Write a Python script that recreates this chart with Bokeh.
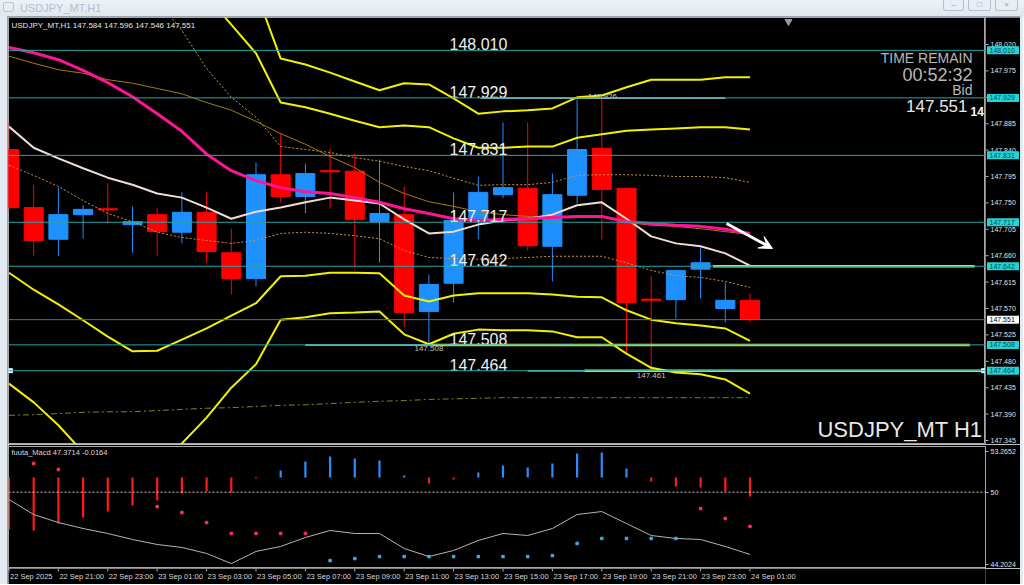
from bokeh.plotting import figure
from bokeh.models import Range1d, FixedTicker, PrintfTickFormatter, Span, Arrow, VeeHead, ColumnDataSource, Div
from bokeh.layouts import column, row
from bokeh.embed import file_html
from bokeh.resources import INLINE
from bokeh.core.properties import value

NaN = float("nan")

# ---------------- price data (H1 candles, 22 Sep 19:00 .. 24 Sep 01:00) ----------------
open_ = [147.841, 147.742, 147.688, 147.730, 147.740, 147.713, 147.730, 147.700, 147.734, 147.665,
         147.621, 147.798, 147.761, 147.805, 147.804, 147.718, 147.730, 147.565, 147.613, 147.720,
         147.764, 147.775, 147.676, 147.763, 147.843, 147.775, 147.586, 147.585, 147.637, 147.570,
         147.584]
high = [147.887, 147.781, 147.776, 147.746, 147.783, 147.744, 147.742, 147.768, 147.768, 147.706,
        147.819, 147.868, 147.817, 147.843, 147.834, 147.824, 147.778, 147.628, 147.768, 147.795,
        147.887, 147.887, 147.800, 147.926, 147.932, 147.776, 147.625, 147.636, 147.674, 147.614,
        147.596]
low = [147.737, 147.659, 147.659, 147.689, 147.715, 147.665, 147.660, 147.681, 147.648, 147.594,
       147.608, 147.751, 147.732, 147.740, 147.638, 147.648, 147.538, 147.508, 147.580, 147.688,
       147.758, 147.669, 147.616, 147.749, 147.688, 147.495, 147.461, 147.553, 147.587, 147.546,
       147.546]
close = [147.742, 147.686, 147.730, 147.739, 147.738, 147.718, 147.701, 147.734, 147.667, 147.621,
         147.798, 147.761, 147.800, 147.803, 147.722, 147.732, 147.563, 147.611, 147.720, 147.768,
         147.776, 147.677, 147.764, 147.841, 147.773, 147.580, 147.584, 147.635, 147.648, 147.584,
         147.551]

# indicator lines on the price chart
ma_magenta = [148.015, 148.006, 147.994, 147.976, 147.955, 147.931, 147.902, 147.872, 147.833, 147.805,
              147.788, 147.776, 147.769, 147.766, 147.759, 147.751, 147.740, 147.732, 147.723, 147.720,
              147.722, 147.723, 147.725, 147.727, 147.727, 147.718, 147.715, 147.712, 147.710, 147.705,
              147.698]
ma_white = [147.880, 147.844, 147.826, 147.809, 147.793, 147.781, 147.766, 147.759, 147.742, 147.723,
            147.735, 147.742, 147.751, 147.759, 147.754, 147.749, 147.722, 147.698, 147.701, 147.713,
            147.720, 147.723, 147.730, 147.746, 147.751, 147.723, 147.693, 147.681, 147.676, 147.664,
            147.643]
ma_gold = [148.000, 147.988, 147.977, 147.971, 147.960, 147.954, 147.945, 147.936, 147.921, 147.908,
           147.889, 147.868, 147.850, 147.829, 147.810, 147.785, 147.766, 147.752, 147.744, 147.735,
           147.730, 147.727, 147.725, 147.727, 147.727, 147.717, 147.712, 147.710, 147.706, 147.701,
           147.696]
env_up = [NaN, NaN, NaN, NaN, NaN, NaN, 148.095, 148.044, 147.979, 147.930,
          147.896, 147.846, 147.841, 147.836, 147.827, 147.821, 147.812, 147.805, 147.792, 147.780,
          147.781, 147.781, 147.785, 147.797, 147.798, 147.798, 147.797, 147.795, 147.795, 147.793,
          147.785]
env_dn = [147.814, 147.797, 147.778, 147.754, 147.732, 147.718, 147.700, 147.691, 147.686, 147.681,
          147.686, 147.698, 147.700, 147.698, 147.694, 147.689, 147.669, 147.657, 147.655, 147.654,
          147.655, 147.657, 147.659, 147.659, 147.659, 147.648, 147.635, 147.626, 147.623, 147.616,
          147.606]
band_up_outer = [NaN, NaN, NaN, NaN, NaN, NaN, NaN, NaN, NaN, NaN,
                 148.110, 147.996, 147.986, 147.972, 147.957, 147.942, 147.954, 147.952, 147.928, 147.902,
                 147.906, 147.908, 147.911, 147.930, 147.933, 147.947, 147.960, 147.960, 147.960, 147.964,
                 147.964]
band_up_inner = [NaN, NaN, NaN, NaN, NaN, NaN, NaN, NaN, 148.102, 148.054,
                 148.005, 147.921, 147.913, 147.902, 147.890, 147.879, 147.882, 147.879, 147.860, 147.844,
                 147.844, 147.846, 147.846, 147.861, 147.867, 147.873, 147.875, 147.877, 147.879, 147.879,
                 147.875]
band_dn_inner = [147.631, 147.602, 147.577, 147.550, 147.522, 147.497, 147.498, 147.517, 147.536, 147.558,
                 147.579, 147.625, 147.626, 147.631, 147.631, 147.630, 147.592, 147.582, 147.592, 147.596,
                 147.596, 147.596, 147.594, 147.590, 147.589, 147.567, 147.551, 147.545, 147.541, 147.536,
                 147.515]
band_dn_outer = [147.442, 147.410, 147.371, 147.325, 147.285, 147.251, 147.301, 147.340, 147.384, 147.435,
                 147.475, 147.551, 147.555, 147.562, 147.563, 147.565, 147.526, 147.509, 147.527, 147.534,
                 147.533, 147.533, 147.531, 147.521, 147.521, 147.493, 147.469, 147.461, 147.458, 147.449,
                 147.425]
ma_long = [147.388, 147.389, 147.391, 147.393, 147.394, 147.394, 147.396, 147.398, 147.400, 147.401,
           147.403, 147.405, 147.406, 147.408, 147.410, 147.412, 147.413, 147.415, 147.416, 147.417,
           147.418, 147.418, 147.418, 147.418, 147.418, 147.418, 147.418, 147.418, 147.418, 147.418,
           147.418]

levels = [148.010, 147.929, 147.831, 147.717, 147.642, 147.508, 147.464]
bid = 147.551
# user-drawn line pieces: level, from bar, to bar
seg_level = [147.929, 147.508, 147.464, 147.642, 147.508, 147.464]
seg_from = [19.1, 12.0, 21.0, 28.5, 17.1, 23.3]
seg_to = [29.0, 17.1, 23.3, 39.1, 38.9, 39.5]
seg_kind = ["pale", "pale", "pale", "yellow", "yellow", "yellow"]

price_ticks = [147.345, 147.390, 147.435, 147.480, 147.525, 147.570, 147.615, 147.660,
               147.705, 147.750, 147.795, 147.840, 147.885, 147.930, 147.975, 148.020]

# ---------------- sub-window (fuuta_Macd) ----------------
hist_base = 51.18
macd_hist = [47.01, 46.93, 47.49, 47.97, 48.45, 48.94, 49.34, 49.90, 50.06, 49.98,
             51.10, 51.74, 52.46, 52.86, 52.70, 52.54, 51.34, 50.70, 51.02, 51.58,
             52.14, 51.98, 52.30, 53.10, 53.19, 51.90, 50.86, 50.46, 50.38, 50.06,
             49.66]
sig_red = [NaN, 52.30, 51.82, NaN, NaN, NaN, 48.85, 48.37, 47.57, 46.69,
           46.69, 46.69, 46.69, NaN, NaN, NaN, NaN, NaN, NaN, NaN,
           NaN, NaN, NaN, NaN, NaN, NaN, NaN, NaN, 48.69, 47.89,
           47.25]
sig_blue = [NaN, NaN, NaN, NaN, NaN, NaN, NaN, NaN, NaN, NaN,
            NaN, NaN, NaN, 44.52, 44.68, 44.84, 44.84, 44.84, 44.84, 44.84,
            44.84, 44.84, 44.92, 45.89, 46.29, 46.29, 46.29, 46.29, NaN, NaN,
            NaN]
macd_line = [49.42, 48.21, 47.57, 47.09, 46.69, 46.21, 45.81, 45.57, 45.09, 44.28,
             45.25, 45.65, 46.37, 46.93, 46.69, 46.69, 45.49, 44.84, 45.33, 46.13,
             46.69, 46.53, 47.09, 48.21, 48.45, 47.49, 46.53, 46.29, 46.21, 45.65,
             45.01]
macd_ticks = [44.2024, 50.0, 53.2652]
date_ticks = [0, 2, 4, 6, 8, 10, 12, 14, 16, 18, 20, 22, 24, 26, 28, 30]
date_labels = ["22 Sep 2025", "22 Sep 21:00", "22 Sep 23:00", "23 Sep 01:00", "23 Sep 03:00",
               "23 Sep 05:00", "23 Sep 07:00", "23 Sep 09:00", "23 Sep 11:00", "23 Sep 13:00",
               "23 Sep 15:00", "23 Sep 17:00", "23 Sep 19:00", "23 Sep 21:00", "23 Sep 23:00",
               "24 Sep 01:00"]

# ---------------- layout helpers ----------------
FONT = "Liberation Sans"
BG = "black"
CHROME = "#e4eaf1"
BAR_PX = 24.7
FRAME_W = 977
AXIS_W = 35
X0 = -0.02
X1 = X0 + FRAME_W / BAR_PX
MAIN_H = 427
Y_TOP, Y_BOT = 148.066, 147.3382
P_PER_PX = (Y_TOP - Y_BOT) / MAIN_H
TOP_Y = 17      # page y of the price frame's top
LEFT_X = 8      # page x of the frames' left edge


def bx(sx):
    return X0 + (sx - LEFT_X) / BAR_PX


def py(sy):
    return Y_TOP - (sy - TOP_Y) * P_PER_PX


def plain(fig):
    fig.grid.visible = False
    fig.background_fill_color = BG
    fig.border_fill_color = BG
    return fig


idx = list(range(len(open_)))
xr = Range1d(X0, X1)

main = plain(figure(width=FRAME_W, height=MAIN_H, x_range=xr, y_range=Range1d(Y_BOT, Y_TOP),
                    x_axis_location=None, y_axis_location=None, output_backend="svg",
                    toolbar_location=None, outline_line_color="#a8a8a8", min_border=0))

# candles
colors = ["#1e90ff" if c > o else "#ff0000" for o, c in zip(open_, close)]
csrc = ColumnDataSource(dict(x=idx, top=[max(o, c) for o, c in zip(open_, close)],
                             bottom=[min(o, c) for o, c in zip(open_, close)],
                             high=high, low=low, color=colors))
main.segment(x0="x", y0="high", x1="x", y1="low", line_color="color", line_width=1, source=csrc)
main.vbar(x="x", top="top", bottom="bottom", width=0.77, fill_color="color", line_color="color",
          line_width=1, source=csrc)

# horizontal levels
for lv in levels:
    main.add_layout(Span(location=lv, dimension="width", line_color="#25a6a6", line_width=1))
main.add_layout(Span(location=bid, dimension="width", line_color="#6a6a6a", line_width=1))

seg_color = {"pale": "#bfeeee", "yellow": "#e8f020"}
seg_w = {"pale": 1.5, "yellow": 2.5}
for lv, a, b, k in zip(seg_level, seg_from, seg_to, seg_kind):
    main.segment(x0=[a], y0=[lv], x1=[b], y1=[lv], line_color=seg_color[k], line_width=seg_w[k])
main.scatter(x=[bx(10), bx(983)], y=[147.464, 147.464], marker="square", size=4, color="#d8ffff")

# indicators
main.line(idx, env_up, line_color="#c8963c", line_width=1, line_dash="2 2")
main.line(idx, env_dn, line_color="#c8963c", line_width=1, line_dash="2 2")
main.line(idx, ma_long, line_color="#6b8e23", line_width=1, line_dash="6 3 2 3")
main.line(idx, ma_gold, line_color="#a87a10", line_width=1)
for band in (band_up_outer, band_up_inner, band_dn_inner, band_dn_outer):
    main.line(idx, band, line_color="#f2f200", line_width=2)
main.line(idx, ma_white, line_color="#f3dcd2", line_width=2)
main.line(idx, ma_magenta, line_color="#ff1493", line_width=3)

main.add_layout(Arrow(end=VeeHead(size=13, fill_color="white", line_color="white", line_width=1),
                      x_start=bx(726), y_start=py(223), x_end=bx(772), y_end=py(248),
                      line_color="white", line_width=3))

# texts in the price window
main.text(x=[bx(449)] * len(levels), y=levels, text=["%.3f" % v for v in levels],
          text_font=value(FONT), text_font_size="16px", text_color="#f0f0f0",
          text_align="left", text_baseline="bottom")
main.text(x=[17, 26], y=[147.508, 147.461], text=["147.508", "147.461"], text_font=value(FONT),
          text_font_size="8px", text_color="#c0c0c0", text_align="center", text_baseline="top",
          y_offset=1)
main.text(x=[bx(602)], y=[147.926], text=["147.926"], text_font=value(FONT),
          text_font_size="8px", text_color="#c8c8c8", text_align="center", text_baseline="bottom",
          y_offset=-1)
main.text(x=[bx(11)], y=[py(25)],
          text=["USDJPY_MT,H1  %.3f %.3f %.3f %.3f" % (open_[-1], high[-1], low[-1], close[-1])],
          text_font=value(FONT), text_font_size="8px", text_color="#e6e6e6",
          text_align="left", text_baseline="middle")
main.text(x=[bx(972)] * 3, y=[py(57), py(74), py(89)], text=["TIME REMAIN", "00:52:32", "Bid"],
          text_font=value(FONT), text_font_size=["14px", "18px", "14px"], text_color="#b8b8b8",
          text_align="right", text_baseline="middle")
main.text(x=[bx(967)], y=[py(105)], text=["%.3f" % bid], text_font=value(FONT),
          text_font_size="17px", text_color="#e8e8e8", text_align="right", text_baseline="middle")
main.text(x=[bx(970)], y=[py(111)], text=["14"], text_font=value(FONT),
          text_font_size="12px", text_font_style="bold", text_color="#ffffff",
          text_align="left", text_baseline="middle")
main.text(x=[bx(982)], y=[py(429)], text=["USDJPY_MT H1"], text_font=value(FONT),
          text_font_size="22px", text_color="#e8e8e8", text_align="right", text_baseline="middle")
main.scatter(x=[bx(788)], y=[py(21)], marker="inverted_triangle", size=7, color="#9a9a9a")

# price scale strip (shares the price scale)
axis_strip = plain(figure(width=AXIS_W, height=MAIN_H, x_range=Range1d(0, AXIS_W), y_range=main.y_range,
                          x_axis_location=None, y_axis_location=None, output_backend="svg",
                          toolbar_location=None, outline_line_color=None, min_border=0))
axis_strip.segment(x0=[0] * len(price_ticks), y0=price_ticks, x1=[3] * len(price_ticks), y1=price_ticks,
                   line_color="#b0b0b0", line_width=1)
axis_strip.text(x=[5] * len(price_ticks), y=price_ticks, text=["%.3f" % t for t in price_ticks],
                text_font=value(FONT), text_font_size="7px", text_color="#e0e0e0",
                text_align="left", text_baseline="middle")
box_h = 8 * P_PER_PX
axis_strip.hbar(y=levels, left=1.5, right=33.5, height=box_h, fill_color="#22d4d4", line_color=None)
axis_strip.text(x=[4] * len(levels), y=levels, text=["%.3f" % v for v in levels],
                text_font=value(FONT), text_font_size="7px", text_color="#0a4848",
                text_align="left", text_baseline="middle")
axis_strip.hbar(y=[bid], left=1.5, right=33.5, height=box_h, fill_color="#ffffff", line_color=None)
axis_strip.text(x=[4], y=[bid], text=["%.3f" % bid], text_font=value(FONT), text_font_size="7px",
                text_color="#000000", text_align="left", text_baseline="middle")

# ---------------- sub window ----------------
M_H = 124
M_TOP, M_BOT = 53.666, 43.883
m_px = (M_H - 2) / (M_TOP - M_BOT)
macd = plain(figure(width=FRAME_W + AXIS_W, height=M_H, x_range=xr, y_range=Range1d(M_BOT, M_TOP),
                    x_axis_location=None, y_axis_location="right", output_backend="svg",
                    toolbar_location=None, outline_line_color="#a8a8a8", min_border_left=0,
                    min_border_right=AXIS_W, min_border_top=2, min_border_bottom=0))
ya = macd.yaxis[0]
ya.ticker = FixedTicker(ticks=macd_ticks)
ya.formatter = PrintfTickFormatter(format="%g")
ya.axis_line_color = "#a8a8a8"
ya.major_tick_line_color = "#b0b0b0"
ya.major_tick_out = 3
ya.major_tick_in = 0
ya.minor_tick_line_color = None
ya.major_label_text_color = "#e0e0e0"
ya.major_label_text_font_size = "7px"
ya.major_label_text_font = FONT
ya.major_label_standoff = 2

macd.add_layout(Span(location=50, dimension="width", line_color="#c8c8c8", line_width=1,
                     line_dash="2 2"))
hcol = ["#2a8cff" if h > hist_base else "#ff1a1a" for h in macd_hist]
macd.vbar(x=idx, bottom=hist_base, top=macd_hist, width=0.09, fill_color=hcol, line_color=None)
macd.line(idx, macd_line, line_color="#b4b4b4", line_width=1)
macd.scatter(idx, sig_red, marker="square", size=2.5, color="#ff3358")
macd.scatter(idx, sig_blue, marker="square", size=2.5, color="#35b5e0")
macd.text(x=[bx(11)], y=[M_TOP - 6 / m_px], text=["fuuta_Macd 47.3714   -0.0164"],
          text_font=value(FONT), text_font_size="7.5px", text_color="#dcdcdc",
          text_align="left", text_baseline="middle")

# time scale strip (shares the bar scale)
D_H = 16
dates = plain(figure(width=FRAME_W + AXIS_W, height=D_H, x_range=xr, y_range=Range1d(0, D_H),
                     x_axis_location=None, y_axis_location=None, output_backend="svg",
                     toolbar_location=None, outline_line_color=None, min_border_left=0,
                     min_border_right=AXIS_W, min_border_top=0, min_border_bottom=0))
dates.segment(x0=date_ticks, y0=[D_H] * len(date_ticks), x1=date_ticks, y1=[D_H - 3] * len(date_ticks),
              line_color="#b0b0b0", line_width=1)
dates.text(x=date_ticks, y=[D_H - 8] * len(date_ticks), text=date_labels, x_offset=1,
           text_font=value(FONT), text_font_size="7.5px", text_color="#d8d8d8",
           text_align="left", text_baseline="middle")

# ---------------- window chrome ----------------
btn = ('<div style="position:absolute;top:0px;left:{l}px;width:{w}px;height:11px;border:1px solid #b4c0cc;'
       'border-top:none;border-radius:0 0 3px 3px;background:#e9eef4;box-sizing:border-box;'
       'font-size:8px;line-height:10px;text-align:center;color:#8f9aa6;">{t}</div>')
title_html = ('<div style="position:relative;width:1024px;height:17px;overflow:hidden;'
              'background:linear-gradient(#eef2f7,#dfe6ee);font-family:Liberation Sans;">'
              '<div style="position:absolute;left:3px;top:2px;width:11px;height:10px;'
              'border:1px solid #b8c4d2;border-radius:2px;box-sizing:border-box;"></div>'
              '<span style="position:absolute;left:20px;top:1px;font-size:11px;color:#b2bfcd;">USDJPY_MT,H1</span>'
              + btn.format(l=943, w=21, t="&#8211;") + btn.format(l=968, w=23, t="&#9633;")
              + btn.format(l=995, w=23, t="&#215;") +
              '<div style="position:absolute;left:7px;right:4px;bottom:0px;height:1px;background:#9aa5b1;"></div>'
              '</div>')
title_bar = Div(text=title_html, width=1024, height=TOP_Y, margin=0, styles={"overflow": "hidden"})
BODY_H = MAIN_H + M_H + D_H
left_edge = Div(text="", width=LEFT_X, height=BODY_H, margin=0,
                styles={"background-color": CHROME, "border-right": "1px solid #9aa5b1",
                        "box-sizing": "border-box"})
right_edge = Div(text="", width=3, height=BODY_H, margin=0, styles={"background-color": CHROME})

center = column(row(main, axis_strip, spacing=0), macd, dates, spacing=0)
layout = column(title_bar, row(left_edge, center, right_edge, spacing=0), spacing=0)
open("out.html", "w").write(file_html(layout, INLINE))
